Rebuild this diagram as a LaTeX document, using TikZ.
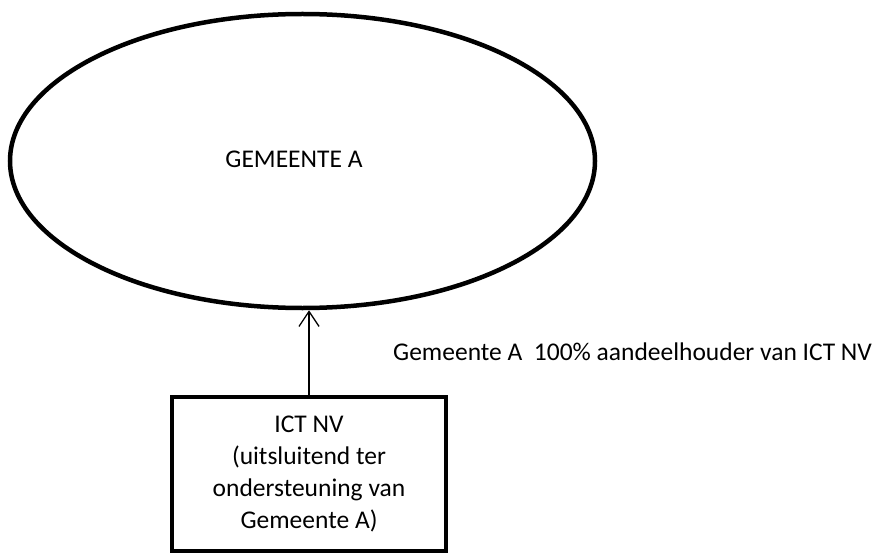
\documentclass[tikz,border=0pt]{standalone}
\usepackage{fontspec}
\setmainfont{Carlito}
\usetikzlibrary{shapes.geometric,arrows.meta}
\begin{document}
\begin{tikzpicture}[x=1pt,y=-1pt,
  txt/.style={font=\fontsize{25.5}{32}\selectfont},
  bigellipse/.style={draw, ellipse, line width=4.5pt, inner sep=0pt, minimum width=585pt, minimum height=294pt, txt},
  boxnode/.style={draw, rectangle, line width=4pt, inner sep=0pt, minimum width=274pt, minimum height=154pt, align=center, txt},
  conn/.style={line width=1.3pt, -{Straight Barb[length=15pt,width=20pt,line width=1.3pt]}}
]
\useasboundingbox (0,0) rectangle (893,556);
\node[bigellipse] (gem) at (302.5,161) {};
\node[txt] (gemtxt) at (294,159) {GEMEENTE A};
\node[boxnode] (ict) at (309,474) {ICT NV\\(uitsluitend ter\\ondersteuning van\\Gemeente A)};
\draw[conn] (ict.north) -- (ict.north |- gem.south);
\node[txt, anchor=west, inner sep=0pt] (lbl) at (393,352) {Gemeente A\ \ 100\% aandeelhouder van ICT NV};
\end{tikzpicture}
\end{document}
